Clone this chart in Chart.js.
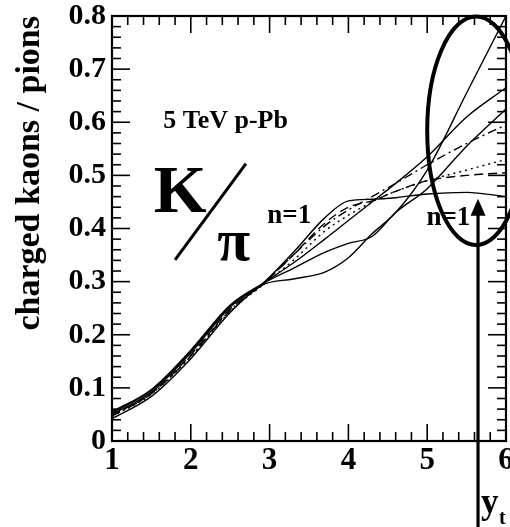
<!DOCTYPE html>
<html lang="en">
<head>
<meta charset="UTF-8">
<script src="https://cdn.jsdelivr.net/npm/chart.js"></script>
<title>K/pi</title>
<style>
  html, body { margin: 0; padding: 0; background: #fff; }
</style>
</head>
<body>
<canvas id="grafico" width="510" height="527"></canvas>
<script>
// transverse rapidity grid
const yt = [1, 1.5, 2, 2.5, 2.9, 3.3, 3.7, 4.0, 4.3, 4.6, 5.0, 5.5, 6.0];

// K/pi curves
const solidFlat   = [0.050, 0.092, 0.166, 0.252, 0.295, 0.355, 0.420, 0.452, 0.455, 0.458, 0.465, 0.468, 0.460];
const dashed      = [0.048, 0.090, 0.162, 0.248, 0.294, 0.350, 0.410, 0.440, 0.452, 0.470, 0.490, 0.500, 0.505];
const dashDot     = [0.047, 0.089, 0.160, 0.246, 0.294, 0.350, 0.405, 0.435, 0.460, 0.485, 0.520, 0.560, 0.595];
const dotted      = [0.046, 0.088, 0.159, 0.244, 0.292, 0.340, 0.395, 0.425, 0.450, 0.470, 0.490, 0.510, 0.530];
const solidWiggle = [0.055, 0.097, 0.171, 0.256, 0.295, 0.325, 0.355, 0.372, 0.385, 0.430, 0.475, 0.555, 0.625];
const solidMid    = [0.053, 0.095, 0.169, 0.254, 0.295, 0.335, 0.380, 0.415, 0.450, 0.485, 0.535, 0.610, 0.665];
const solidSteep  = [0.042, 0.084, 0.155, 0.242, 0.293, 0.305, 0.318, 0.345, 0.390, 0.430, 0.510, 0.655, 0.800];

const xTicks = [1, 2, 3, 4, 5, 6];
const yTicks = [0, 0.1, 0.2, 0.3, 0.4, 0.5, 0.6, 0.7, 0.8];

const serif = '"Liberation Serif", "Times New Roman", serif';

function pts(ys) {
    return yt.map(function (x, i) { return { x: x, y: ys[i] }; });
}

function curva(ys, dash) {
    return {
        data: pts(ys),
        borderColor: '#000',
        borderWidth: 1.4,
        borderDash: dash,
        pointRadius: 0,
        cubicInterpolationMode: 'monotone',
        fill: false
    };
}

// frame with ROOT style inner ticks + annotations
const moldura = {
    id: 'moldura',
    afterDraw(chart) {
        const c = chart.ctx;
        const a = chart.chartArea;
        const sx = chart.scales.x;
        const sy = chart.scales.y;
        const px = v => sx.getPixelForValue(v);
        const py = v => sy.getPixelForValue(v);

        function seg(x1, y1, x2, y2) {
            c.beginPath(); c.moveTo(x1, y1); c.lineTo(x2, y2); c.stroke();
        }

        c.save();
        c.strokeStyle = '#000';
        c.lineWidth = 1.6;
        for (let i = 0; i < xTicks.length; i++) {
            for (let k = 0; k < 5; k++) {
                if (i == xTicks.length - 1 && k > 0) break;
                const v = xTicks[i] + k * 0.2;
                const p = px(v);
                const L = k == 0 ? 17 : 9;
                seg(p, a.bottom, p, a.bottom - L);
                seg(p, a.top, p, a.top + L);
            }
        }
        for (let i = 0; i < yTicks.length; i++) {
            for (let k = 0; k < 5; k++) {
                if (i == yTicks.length - 1 && k > 0) break;
                const v = yTicks[i] + k * 0.02;
                const p = py(v);
                const L = k == 0 ? 18 : 9;
                seg(a.left, p, a.left + L, p);
                seg(a.right, p, a.right - L, p);
            }
        }
        c.lineWidth = 2.2;
        c.strokeRect(a.left, a.top, a.right - a.left, a.bottom - a.top);

        // texts
        c.fillStyle = '#000';
        c.textBaseline = 'alphabetic';
        c.textAlign = 'left';
        c.font = 'bold 26px ' + serif;
        c.fillText('5 TeV p-Pb', px(1.65), py(0.59));
        c.font = 'bold 68px ' + serif;
        c.fillText('K', px(1.53), py(0.431));
        c.font = 'bold 60px ' + serif;
        c.fillText('\u03c0', px(2.335), py(0.341));
        c.font = 'bold 27px ' + serif;
        c.fillText('n=1', px(2.97), py(0.41));
        c.fillText('n=1', px(4.99), py(0.407));

        c.lineWidth = 3;
        seg(px(1.80), py(0.341), px(2.70), py(0.522));

        // ellipse
        c.lineWidth = 4;
        c.beginPath();
        const ex = px(5.62), ey = py(0.584);
        c.ellipse(ex, ey, px(6.24) - ex, ey - py(0.799), 0, 0, 2 * Math.PI);
        c.stroke();

        // arrow
        const ax = px(5.645);
        c.lineWidth = 3.2;
        seg(ax, chart.height, ax, py(0.44));
        c.beginPath();
        c.moveTo(ax, py(0.456));
        c.lineTo(ax - 7.5, py(0.424));
        c.lineTo(ax + 7.5, py(0.424));
        c.closePath();
        c.fill();

        // y_t
        c.font = 'bold 35px ' + serif;
        c.fillText('y', ax + 3, 513);
        c.font = 'bold 20px ' + serif;
        c.fillText('t', ax + 21, 524);
        c.restore();
    }
};

new Chart(document.getElementById('grafico'), {
    type: 'line',
    data: {
        datasets: [
            curva(solidFlat, []),
            curva(dashed, [9, 5]),
            curva(dashDot, [9, 4, 2, 4]),
            curva(dotted, [2, 4]),
            curva(solidWiggle, []),
            curva(solidMid, []),
            curva(solidSteep, [])
        ]
    },
    plugins: [moldura],
    options: {
        responsive: false,
        animation: false,
        layout: { padding: { top: 16, right: 4, left: 0, bottom: 0 } },
        plugins: { legend: { display: false }, tooltip: { enabled: false } },
        scales: {
            x: {
                type: 'linear',
                min: 1,
                max: 6,
                grid: { display: false, drawTicks: false },
                border: { display: false },
                ticks: {
                    stepSize: 1,
                    color: '#000',
                    padding: 1,
                    maxRotation: 0,
                    font: { family: serif, size: 31, weight: 'bold' }
                },
                afterFit(s) { s.height = 86; s.paddingLeft = 0; s.paddingRight = 0; }
            },
            y: {
                min: 0,
                max: 0.8,
                grid: { display: false, drawTicks: false },
                border: { display: false },
                ticks: {
                    stepSize: 0.1,
                    color: '#000',
                    padding: 6,
                    font: { family: serif, size: 30, weight: 'bold' }
                },
                title: {
                    display: true,
                    text: 'charged kaons / pions',
                    align: 'end',
                    color: '#000',
                    padding: { top: 10, bottom: 0 },
                    font: { family: serif, size: 34, weight: 'bold' }
                },
                afterFit(s) { s.width = 112; s.paddingTop = 0; s.paddingBottom = 0; }
            }
        }
    }
});
</script>
</body>
</html>
